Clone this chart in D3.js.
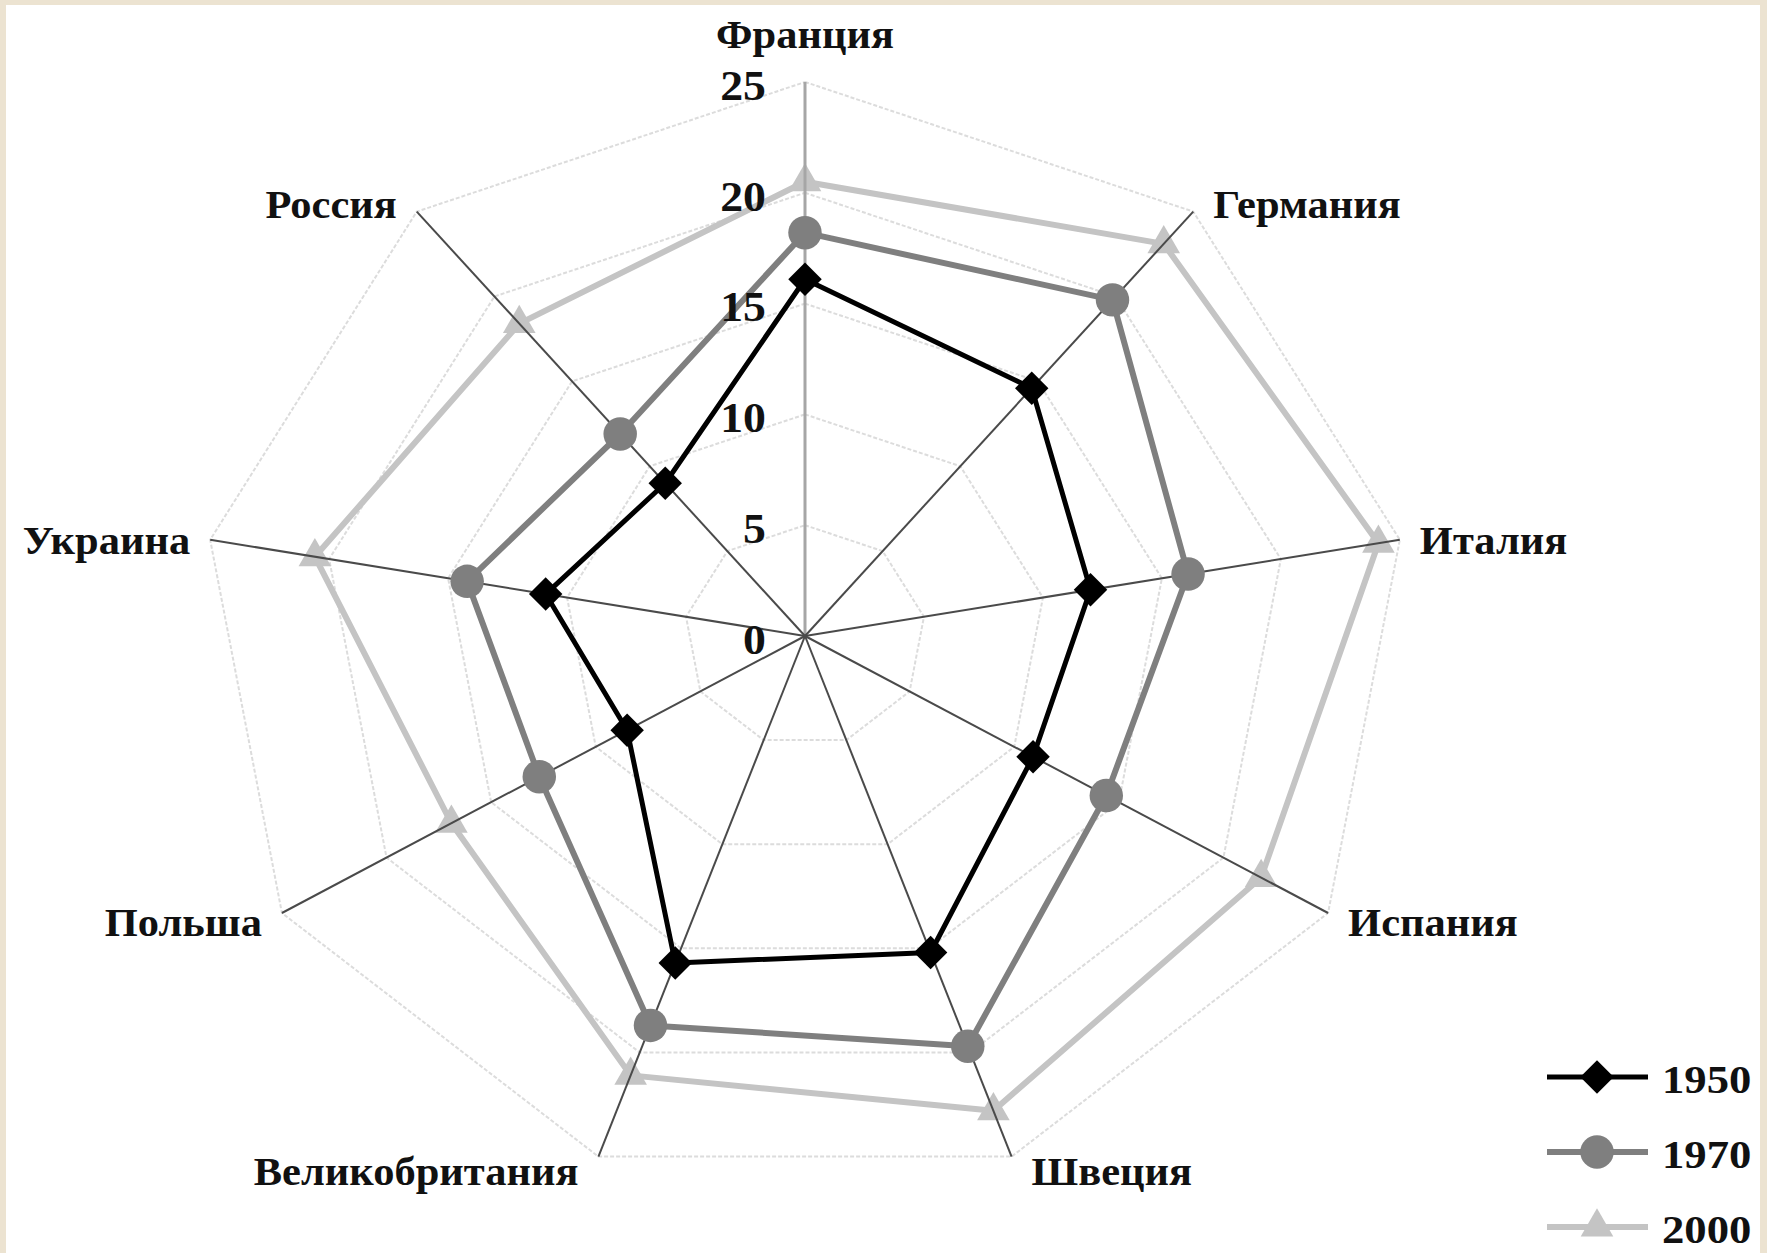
<!DOCTYPE html>
<html>
<head>
<meta charset="utf-8">
<script src="https://cdn.jsdelivr.net/npm/d3@7"></script>
<style>
    html, body { margin: 0; padding: 0; background: #ffffff; }
    svg { display: block; }
    text { font-family: "Liberation Serif", "Times New Roman", serif; font-weight: bold; fill: #111; }
</style>
</head>
<body>
<svg id="chart" width="1767" height="1253"></svg>
<script>

// data
var countries = ['Франция', 'Германия', 'Италия', 'Испания', 'Швеция', 'Великобритания', 'Польша', 'Украина', 'Россия'];
var years = ['1950', '1970', '2000'];
var values1950 = [16.1, 14.6, 12.0, 10.9, 15.2, 15.7, 8.5, 10.9, 9.0];
var values1970 = [18.2, 19.8, 16.1, 14.4, 19.7, 18.7, 12.7, 14.2, 11.9];
var values2000 = [20.5, 23.1, 24.1, 21.8, 22.8, 21.1, 16.9, 20.6, 18.4];
var ticks = [0, 5, 10, 15, 20, 25];

var width = 1767, height = 1253;
var cx = 805, cy = 636;

var svg = d3.select('#chart');

// beige frame of the scan
svg.append('rect').attr('width', width).attr('height', height).attr('fill', '#ece3d1');
svg.append('rect').attr('x', 6).attr('y', 5).attr('width', 1754).attr('height', height - 5).attr('fill', '#ffffff');

// the chart is a little wider than it is tall
var rx = d3.scaleLinear().domain([0, 25]).range([0, 604]);
var ry = d3.scaleLinear().domain([0, 25]).range([0, 554]);
var angle = d3.scalePoint().domain(countries).range([0, 2 * Math.PI * (countries.length - 1) / countries.length]);

var point = function (country, v) {
    var a = angle(country);
    return [cx + rx(v) * Math.sin(a), cy - ry(v) * Math.cos(a)];
};

var g = svg.append('g');

// rings
var ring = d3.line();
ticks.filter(function (t) { return t > 0; }).forEach(function (t) {
    var pts = countries.map(function (c) { return point(c, t); });
    pts.push(pts[0]);
    g.append('path')
        .attr('d', ring(pts))
        .attr('fill', 'none')
        .attr('stroke', '#dcdcdc')
        .attr('stroke-width', 2)
        .attr('stroke-dasharray', '4,2');
});

var series = [
    { name: '1950', values: values1950, color: '#000000', width: 5, symbol: 'diamond' },
    { name: '1970', values: values1970, color: '#7f7f7f', width: 6, symbol: 'circle' },
    { name: '2000', values: values2000, color: '#c4c4c4', width: 6, symbol: 'triangle' }
];

var symbolPath = function (kind) {
    if (kind === 'diamond') {
        return d3.symbol().type(d3.symbolSquare).size(560)();
    }
    if (kind === 'circle') {
        return d3.symbol().type(d3.symbolCircle).size(880)();
    }
    return d3.symbol().type(d3.symbolTriangle).size(460)();
};

var drawSeries = function (s) {
    var pts = countries.map(function (c, i) { return point(c, s.values[i]); });
    pts.push(pts[0]);
    g.append('path')
        .attr('d', d3.line()(pts))
        .attr('fill', 'none')
        .attr('stroke', s.color)
        .attr('stroke-width', s.width)
        .attr('stroke-linejoin', 'round');

    g.selectAll(null)
        .data(pts.slice(0, -1))
        .enter()
        .append('path')
        .attr('d', symbolPath(s.symbol))
        .attr('transform', function (p) {
            return 'translate(' + p[0] + ',' + p[1] + ')' + (s.symbol === 'diamond' ? ' rotate(45)' : '');
        })
        .attr('fill', s.color);
};

// lightest series goes under the spokes
drawSeries(series[2]);

countries.forEach(function (c, i) {
    var end = point(c, 25);
    g.append('line')
        .attr('x1', cx).attr('y1', cy)
        .attr('x2', end[0]).attr('y2', end[1])
        .attr('stroke', i === 0 ? '#a6a6a6' : '#4a4a4a')
        .attr('stroke-width', i === 0 ? 3 : 2);
});

drawSeries(series[1]);
drawSeries(series[0]);

// tick labels along the top spoke
var stretch = ' scale(1.09,1)';
ticks.forEach(function (t) {
    g.append('text')
        .attr('transform', 'translate(' + (cx - 39) + ',' + (cy - ry(t) + 4) + ')' + stretch)
        .attr('text-anchor', 'end')
        .attr('dominant-baseline', 'central')
        .attr('font-size', 42)
        .text(t);
});

// category labels
countries.forEach(function (c) {
    var a = angle(c);
    var end = point(c, 25);
    var s = Math.sin(a);
    var x, y, anchor;
    if (Math.abs(s) < 0.01) {
        x = end[0];
        y = end[1] - 34;
        anchor = 'middle';
    } else {
        x = end[0] + (s > 0 ? 20 : -20);
        y = end[1] + 16 - 13 * Math.cos(a);
        anchor = s > 0 ? 'start' : 'end';
    }
    g.append('text')
        .attr('transform', 'translate(' + x + ',' + y + ')' + stretch)
        .attr('text-anchor', anchor)
        .attr('font-size', 39)
        .text(c);
});

// legend
var legend = svg.append('g').attr('transform', 'translate(1547,1077)');
series.forEach(function (s, i) {
    var row = legend.append('g').attr('transform', 'translate(0,' + (i * 75) + ')');
    row.append('line')
        .attr('x1', 0).attr('x2', 101)
        .attr('stroke', s.color)
        .attr('stroke-width', s.width);
    row.append('path')
        .attr('d', symbolPath(s.symbol))
        .attr('transform', 'translate(50,0)' + (s.symbol === 'diamond' ? ' rotate(45)' : ''))
        .attr('fill', s.color);
    row.append('text')
        .attr('transform', 'translate(115,2)' + stretch)
        .attr('dominant-baseline', 'central')
        .attr('font-size', 41)
        .text(s.name);
});

</script>
</body>
</html>
